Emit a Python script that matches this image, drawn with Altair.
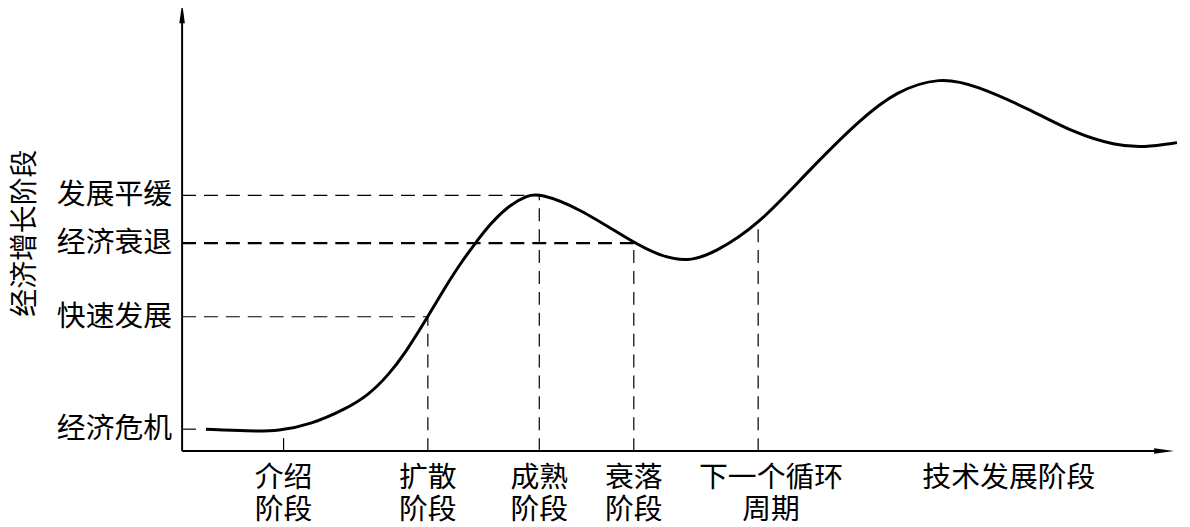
import altair as alt
import pandas as pd

FONT = "Noto Sans CJK SC"
FS = 29

# Curve (x: horizontal units from origin, y: vertical units above the x axis)
curve_x = [24, 67, 97, 130, 164, 187, 207, 224, 247, 264, 280, 294, 310, 330, 347, 359,
           398, 454, 481, 508, 535, 579, 627, 681, 718, 762, 797, 855, 896, 938, 967, 1000]
curve_y = [22, 20, 20, 27, 42, 56, 76, 98, 135, 164, 189, 208, 229, 248, 257, 259,
           245, 209, 196, 190, 199, 227, 279, 333, 362, 376, 368, 342, 320, 307, 305, 310]

# Y-level labels
level_names = ["经济危机", "快速发展", "经济衰退", "发展平缓"]
level_vals = [22, 135, 209, 257]
level_ends = [20, 247, 454, 359]   # where the horizontal dashed guide stops
level_width = [1.2, 1.2, 2.2, 1.2]

# Vertical guides
vguide_x = [102, 247, 359, 454, 579]
vguide_top = [20, 135, 257, 209, 227]

# X labels (two lines)
xlab_x = [102, 247, 359, 454, 592, 831]
xlab_text = ["介绍\n阶段", "扩散\n阶段", "成熟\n阶段", "衰落\n阶段", "下一个循环\n周期", "技术发展阶段"]

y_title = "经济增长阶段"

X_MAX = 1000
Y_MAX = 442

xs = alt.Scale(domain=[0, X_MAX], nice=False, zero=False)
ys = alt.Scale(domain=[0, Y_MAX], nice=False, zero=False)

curve_df = pd.DataFrame({"x": curve_x, "y": curve_y})
curve = alt.Chart(curve_df).mark_line(
    color="black", strokeWidth=3, interpolate="basis"
).encode(x=alt.X("x:Q", scale=xs, axis=None), y=alt.Y("y:Q", scale=ys, axis=None))

hdf = pd.DataFrame({"x0": [0] * 4, "x1": level_ends, "y": level_vals, "w": level_width})
hguides = alt.Chart(hdf).mark_rule(color="black", strokeDash=[14, 8]).encode(
    x=alt.X("x0:Q", scale=xs, axis=None), x2="x1:Q",
    y=alt.Y("y:Q", scale=ys, axis=None),
    strokeWidth=alt.StrokeWidth("w:Q", scale=None, legend=None),
)

vdf = pd.DataFrame({"x": vguide_x, "y0": [0] * 5, "y1": vguide_top})
vguides = alt.Chart(vdf).mark_rule(color="black", strokeDash=[13, 8], strokeWidth=1.2).encode(
    x=alt.X("x:Q", scale=xs, axis=None),
    y=alt.Y("y0:Q", scale=ys, axis=None), y2="y1:Q",
)

# Axes lines
axdf = pd.DataFrame({"x0": [0, 0], "x1": [990, 0], "y0": [0, 0], "y1": [0, 440]})
axes = alt.Chart(axdf).mark_rule(color="black", strokeWidth=2).encode(
    x=alt.X("x0:Q", scale=xs, axis=None), x2="x1:Q",
    y=alt.Y("y0:Q", scale=ys, axis=None), y2="y1:Q",
)

arr_up = alt.Chart(pd.DataFrame({"x": [0], "y": [440]})).mark_point(
    shape="M0,-1L0.28,1L-0.28,1Z", size=400, filled=True, color="black", opacity=1
).encode(x=alt.X("x:Q", scale=xs, axis=None), y=alt.Y("y:Q", scale=ys, axis=None))

arr_right = alt.Chart(pd.DataFrame({"x": [987], "y": [0]})).mark_point(
    shape="M1,0L-1,0.28L-1,-0.28Z", size=400, filled=True, color="black", opacity=1
).encode(x=alt.X("x:Q", scale=xs, axis=None), y=alt.Y("y:Q", scale=ys, axis=None))

ylab_df = pd.DataFrame({"x": [-10] * 4, "y": level_vals, "t": level_names})
ylabs = alt.Chart(ylab_df).mark_text(
    align="right", baseline="middle", font=FONT, fontSize=FS, color="black"
).encode(x=alt.X("x:Q", scale=xs, axis=None), y=alt.Y("y:Q", scale=ys, axis=None), text="t:N")

xl_df = pd.DataFrame({"x": xlab_x, "y": [-13] * len(xlab_x), "t": xlab_text})
xlabs = alt.Chart(xl_df).mark_text(
    align="center", baseline="top", font=FONT, fontSize=FS, color="black",
    lineBreak="\n", lineHeight=32,
).encode(x=alt.X("x:Q", scale=xs, axis=None), y=alt.Y("y:Q", scale=ys, axis=None), text="t:N")

ytitle = alt.Chart(pd.DataFrame({"x": [-157], "y": [219], "t": [y_title]})).mark_text(
    align="center", baseline="middle", font=FONT, fontSize=28, color="black", angle=270
).encode(x=alt.X("x:Q", scale=xs, axis=None), y=alt.Y("y:Q", scale=ys, axis=None), text="t:N")

chart = alt.layer(
    hguides, vguides, axes, arr_up, arr_right, curve, ylabs, xlabs, ytitle
).properties(
    width=X_MAX, height=Y_MAX,
    padding={"left": 175, "top": 2, "right": 5, "bottom": 75},
    autosize=alt.AutoSizeParams(type="none"),
    background="white",
).configure_view(stroke=None)

chart.save("out.html", embed_options={"renderer": "svg", "actions": False})
